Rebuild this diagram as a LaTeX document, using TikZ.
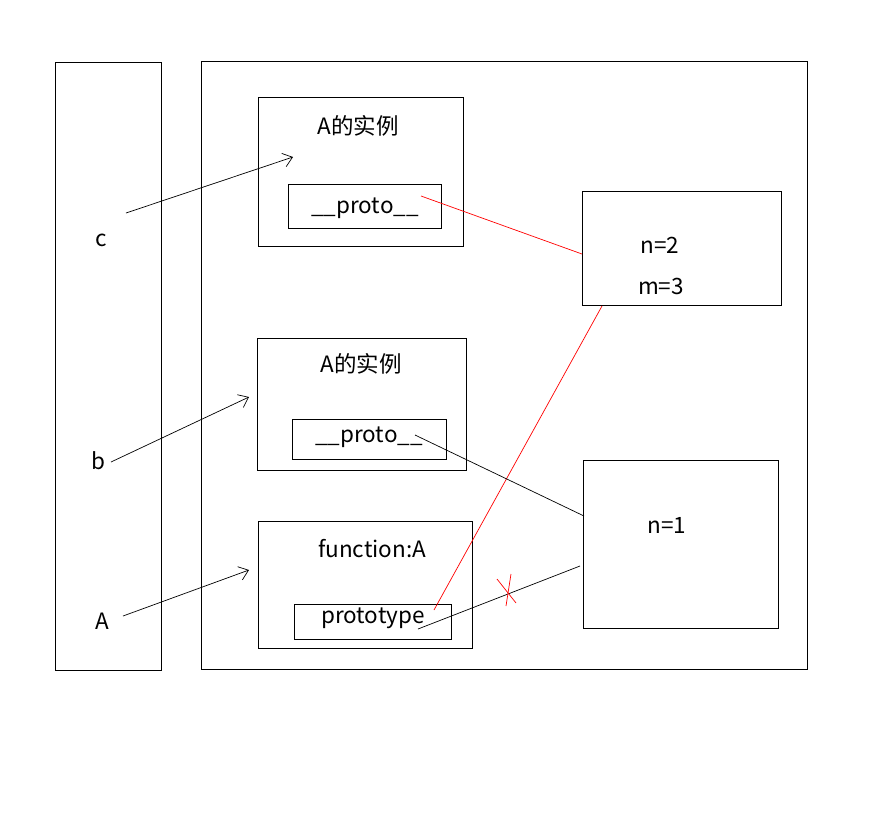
\documentclass[tikz,border=0pt]{standalone}
\usepackage{fontspec}
\setmainfont{Noto Sans CJK SC}
\usetikzlibrary{arrows.meta}
\begin{document}
\begin{tikzpicture}[x=1pt,y=-1pt,
  box/.style={draw,line width=0.8pt},
  lbl/.style={font=\fontsize{22.5}{26}\selectfont,inner sep=0pt},
  ptr/.style={line width=0.7pt,-{Straight Barb[length=9pt,width=14pt,line width=0.7pt]}},
  link/.style={line width=0.7pt},
  redlink/.style={line width=0.7pt,red}]
\useasboundingbox (0,0) rectangle (892,815);
% frames
\draw[box] (55,62) rectangle (161,670);
\draw[box] (201,61) rectangle (807,669);
% instance c
\draw[box] (258,97) rectangle (463,246);
\node[lbl] (t1) at (358,126) {A的实例};
\draw[box] (288,184) rectangle (441,228);
\node[lbl] (p1) at (365,208) {\_\_proto\_\_};
% instance b
\draw[box] (257,338) rectangle (466,470);
\node[lbl] (t2) at (361,364) {A的实例};
\draw[box] (292,419) rectangle (446,459);
\node[lbl] (p2) at (369,437) {\_\_proto\_\_};
% function A
\draw[box] (258,521) rectangle (472,648);
\node[lbl] (t3) at (372,549) {function:A};
\draw[box] (294,604) rectangle (451,639);
\node[lbl] (p3) at (373,618) {prototype};
% right boxes
\draw[box] (582,191) rectangle (781,305);
\node[lbl] (n2) at (660,245) {n=2};
\node[lbl] (m3) at (661,286) {m=3};
\draw[box] (583,460) rectangle (778,628);
\node[lbl] (n1) at (667,525) {n=1};
% variables
\node[lbl] (c) at (101,240) {c};
\node[lbl] (b) at (98,461) {b};
\node[lbl] (A) at (102,621) {A};
% coordinates
\coordinate (cs) at (126,213); \coordinate (ce) at (293,157);
\coordinate (bs) at (111,462); \coordinate (be) at (249,397);
\coordinate (as) at (123,616); \coordinate (ae) at (249,570);
\coordinate (r1s) at (421,196); \coordinate (r1e) at (582,254);
\coordinate (r2s) at (434,610); \coordinate (r2e) at (602,306);
\coordinate (k1s) at (415,435); \coordinate (k1e) at (584,516);
\coordinate (k2s) at (418,629); \coordinate (k2e) at (580,566);
\coordinate (x1) at (497,579); \coordinate (x2) at (516,603);
\coordinate (x3) at (511,574); \coordinate (x4) at (506,606);
% arrows
\draw[ptr] (cs) -- (ce);
\draw[ptr] (bs) -- (be);
\draw[ptr] (as) -- (ae);
% links
\draw[redlink] (r1s) -- (r1e);
\draw[redlink] (r2s) -- (r2e);
\draw[link] (k1s) -- (k1e);
\draw[link] (k2s) -- (k2e);
\draw[redlink] (x1) -- (x2);
\draw[redlink] (x3) -- (x4);
\end{tikzpicture}
\end{document}
